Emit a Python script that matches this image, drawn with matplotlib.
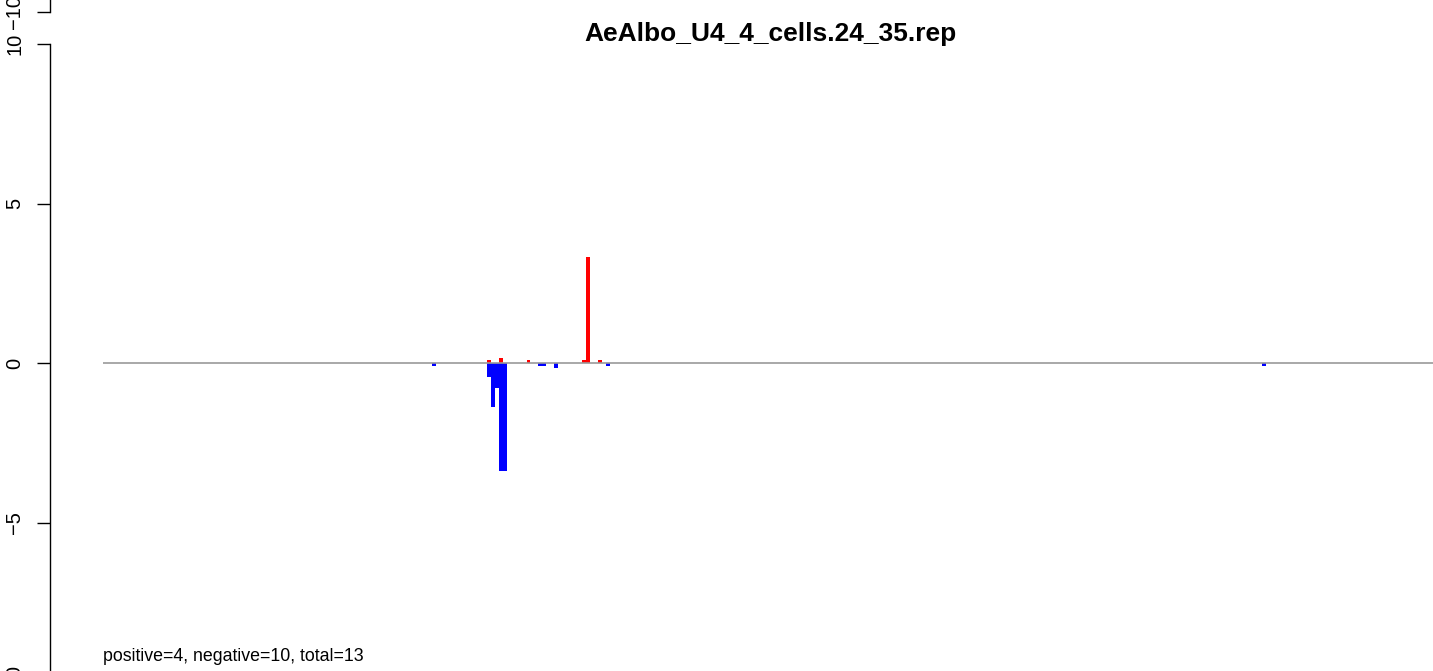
import numpy as np
import matplotlib
matplotlib.use("Agg")
from matplotlib import pyplot as plt

plt.rcParams['font.family'] = ['Liberation Sans', 'DejaVu Sans']

# bins along the reference (one bar per bin)
pos_bins = [97, 100, 107, 121, 122, 125]
pos_vals = [0.08, 0.16, 0.08, 0.08, 3.33, 0.08]
neg_bins = [83, 97, 98, 99, 100, 101, 110, 111, 114, 127, 293]
neg_vals = [-0.08, -0.43, -1.37, -0.77, -3.37, -3.37, -0.1, -0.1, -0.17, -0.09, -0.08]
n_bins = 350
title = 'AeAlbo_U4_4_cells.24_35.rep'
summary = 'positive=4, negative=10, total=13'
yticks = [-10, -5, 0, 5, 10]

W, H = 1433, 671
fig = plt.figure(figsize=(W / 100, H / 100), dpi=100)

def style_axis(ax):
    for s in ['top', 'right', 'bottom']:
        ax.spines[s].set_visible(False)
    ax.spines['left'].set_linewidth(1.0)
    ax.set_xticks([])
    ax.tick_params(axis='y', length=9.5, width=1.0, pad=9, labelsize=14.5)
    for lab in ax.get_yticklabels():
        lab.set_rotation(90)
        lab.set_va('center')
    ax.patch.set_alpha(0)

# remnant of the panel above
ax_up = fig.add_axes([50 / W, (H - 12) / H, 0.965, 638 / H])
ax_up.set_ylim(-10, 10)
ax_up.set_xlim(-13.5, 336.2)
ax_up.set_yticks(yticks)
ax_up.set_yticklabels([str(t).replace('-', '\u2212') for t in yticks])
style_axis(ax_up)

ax = fig.add_axes([50 / W, (H - 682) / H, 0.965, 638 / H])
ax.set_ylim(-10, 10)
ax.set_xlim(-13.5, 336.2)
ax.set_yticks(yticks)
ax.set_yticklabels([str(t).replace('-', '\u2212') for t in yticks])
style_axis(ax)

ax.bar(pos_bins, pos_vals, width=1.0, align='edge', color='#FF0000', linewidth=0, zorder=2)
ax.bar(neg_bins, neg_vals, width=1.0, align='edge', color='#0000FF', linewidth=0, zorder=2)
ax.hlines(0, 0, n_bins, color='#999999', lw=1.2, zorder=3)

ax.text(0, -9.35, summary, fontsize=12.8, va='baseline', ha='left')
fig.text(770 / W, 1 - 41 / H, title, fontsize=19, fontweight='bold', ha='center', va='baseline')

fig.savefig('out.png', dpi=100)
